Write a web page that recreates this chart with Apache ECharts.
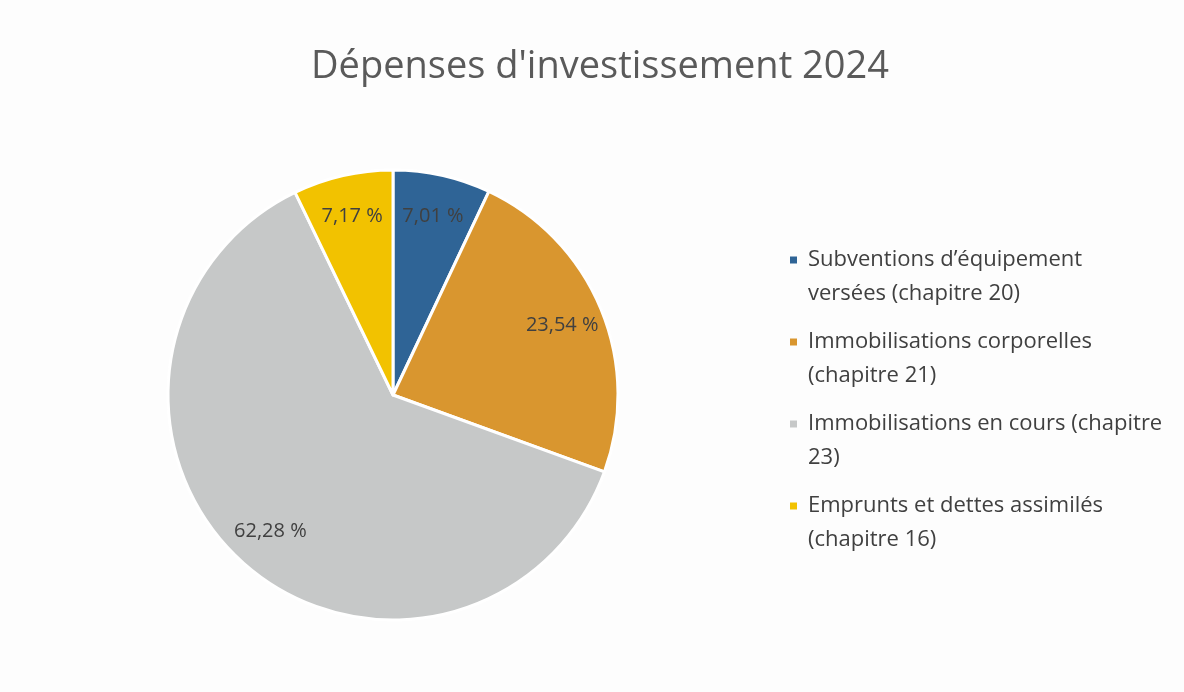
<!DOCTYPE html>
<html>
<head>
<meta charset="utf-8">
<script src="https://cdn.jsdelivr.net/npm/echarts@6/dist/echarts.min.js"></script>
<style>
  html, body { margin: 0; padding: 0; background: #fff; }
  #chart { width: 1184px; height: 692px; }
</style>
</head>
<body>
<div id="chart"></div>
<script>
// categories and values (percent)
var categories = [
  'Subventions d\u2019équipement versées (chapitre 20)',
  'Immobilisations corporelles (chapitre 21)',
  'Immobilisations en cours (chapitre 23)',
  'Emprunts et dettes assimilés (chapitre 16)'
];
var legendLine1 = [
  'Subventions d\u2019équipement',
  'Immobilisations corporelles',
  'Immobilisations en cours (chapitre',
  'Emprunts et dettes assimilés'
];
var legendLine2 = [
  'versées (chapitre 20)',
  '(chapitre 21)',
  '23)',
  '(chapitre 16)'
];
var values = [7.01, 23.54, 62.28, 7.17];
var colors = ['#2f6496', '#d9962f', '#c6c8c8', '#f2c200'];

var chart = echarts.init(document.getElementById('chart'));

var pieData = categories.map(function (c, i) {
  return { name: c, value: values[i], itemStyle: { color: colors[i] } };
});

var fmt = function (p) {
  return p.value.toFixed(2).replace('.', ',') + ' %';
};

// legend squares drawn inline so they sit on the first text line
var rich = {
  t: { fontFamily: 'Open Sans', fontSize: 22, color: '#404040', lineHeight: 34 },
  gap: { width: 18, lineHeight: 34 },
  sp: { width: 11, lineHeight: 34 }
};
colors.forEach(function (c, i) {
  rich['s' + i] = { backgroundColor: c, width: 7, height: 7, lineHeight: 34 };
});

chart.setOption({
  backgroundColor: '#fdfdfd',
  animation: false,
  title: {
    text: 'Dépenses d\'investissement 2024',
    left: 306,
    top: 43,
    textStyle: {
      fontFamily: 'Open Sans',
      fontSize: 38,
      fontWeight: 'normal',
      color: '#5a5a5a'
    }
  },
  legend: {
    orient: 'vertical',
    left: 780,
    top: 244,
    icon: 'none',
    itemWidth: 0,
    itemHeight: 0,
    itemGap: 26,
    data: categories,
    formatter: function (name) {
      var i = categories.indexOf(name);
      return '{s' + i + '|}{sp|}{t|' + legendLine1[i] + '}\n{gap|}{t|' + legendLine2[i] + '}';
    },
    textStyle: { rich: rich, padding: 0 }
  },
  series: [
    {
      type: 'pie',
      center: [393, 395],
      radius: 225,
      startAngle: 90,
      clockwise: true,
      data: pieData,
      itemStyle: { borderColor: '#ffffff', borderWidth: 3 },
      label: { show: false },
      labelLine: { show: false }
    },
    {
      // transparent ring used only to place the percent labels
      type: 'pie',
      silent: true,
      center: [393, 395],
      radius: [135, 225],
      startAngle: 90,
      clockwise: true,
      data: pieData.map(function (d) {
        return { name: d.name, value: d.value, itemStyle: { color: 'transparent' } };
      }),
      legendHoverLink: false,
      label: {
        show: true,
        position: 'inside',
        formatter: fmt,
        fontFamily: 'Open Sans',
        fontSize: 20,
        color: '#404040'
      },
      labelLine: { show: false }
    }
  ]
});
</script>
</body>
</html>
